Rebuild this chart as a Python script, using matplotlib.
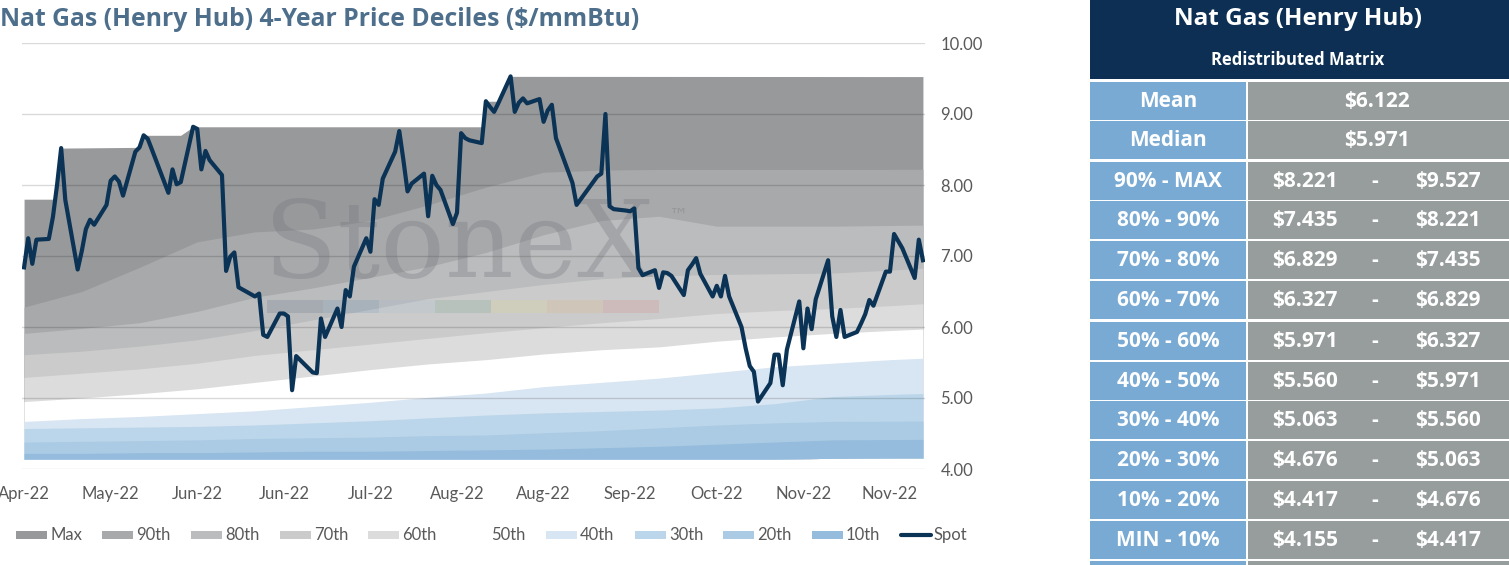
import numpy as np
import pandas as pd
import matplotlib
matplotlib.use('Agg')
import matplotlib.pyplot as plt
import matplotlib.dates as mdates
from matplotlib.patches import Rectangle
from matplotlib.lines import Line2D
from matplotlib.ticker import FormatStrFormatter

# ---------------- data ----------------
holidays = ['2022-05-30', '2022-06-20', '2022-07-04', '2022-09-05', '2022-11-24']
spot_dates = pd.bdate_range('2022-04-26', '2022-11-30', freq='C', holidays=holidays)
spot = [
    6.84, 7.25, 6.89, 7.23,
    7.24, 7.55, 8.00, 8.52, 7.79,
    6.81, 7.07, 7.38, 7.51, 7.44,
    7.72, 8.06, 8.12, 8.05, 7.85,
    8.47, 8.53, 8.70, 8.65, 8.50,
    7.89,
    8.22, 8.01, 8.04,
    8.82, 8.79, 8.22, 8.48, 8.35,
    8.14, 6.79, 6.99, 7.05, 6.56,
    6.43, 6.47, 5.89, 5.86,
    6.19, 6.19, 6.15, 5.11,
    5.59,
    5.36, 5.35, 6.12, 5.86,
    6.26, 6.00, 6.52, 6.43, 6.85,
    7.25, 7.06, 7.80, 7.72, 8.09,
    8.47, 8.76, 8.35, 7.91, 8.02,
    8.16, 7.56, 8.13, 8.00, 7.93,
    7.45, 7.61, 8.73, 8.66, 8.63,
    8.59, 9.18, 9.10, 9.03, 9.15,
    9.53, 9.03, 9.16, 9.22, 9.15,
    9.21, 8.89, 9.05,
    9.13, 8.66,
    8.03, 7.72, 7.80, 7.88,
    8.12, 8.16, 9.00, 7.70, 7.66,
    7.64, 7.63, 7.67, 6.83, 6.73,
    6.80, 6.55, 6.77, 6.76, 6.72,
    6.45, 6.80, 6.88, 6.97, 6.75,
    6.43, 6.58, 6.43, 6.72, 6.43,
    6.00, 5.70, 5.45, 5.37, 4.95,
    5.21, 5.61, 5.61, 5.18, 5.68,
    6.36,
    5.70, 6.26, 5.97, 6.39,
    6.94, 6.15, 5.86, 6.24, 5.86,
    5.93, 6.05, 6.18, 6.38, 6.30,
    6.78, 6.78, 7.31, 7.11,
    6.69, 7.23, 6.94,
]

band_dates = pd.to_datetime([
    '2022-04-26', '2022-05-10', '2022-05-24', '2022-06-07', '2022-06-21',
    '2022-07-05', '2022-07-19', '2022-08-02', '2022-08-16', '2022-08-30',
    '2022-09-13', '2022-09-27', '2022-10-11', '2022-10-25', '2022-11-08',
    '2022-11-22', '2022-11-30'])
p_min = [4.14, 4.14, 4.14, 4.14, 4.14, 4.14, 4.14, 4.14, 4.14, 4.14, 4.14, 4.14, 4.14, 4.14, 4.15, 4.155, 4.155]
p10 = [4.22, 4.22, 4.23, 4.23, 4.24, 4.25, 4.25, 4.26, 4.27, 4.28, 4.30, 4.32, 4.35, 4.38, 4.41, 4.415, 4.417]
p20 = [4.38, 4.39, 4.40, 4.41, 4.43, 4.44, 4.45, 4.47, 4.48, 4.51, 4.54, 4.58, 4.62, 4.65, 4.67, 4.675, 4.676]
p30 = [4.57, 4.58, 4.59, 4.60, 4.62, 4.65, 4.68, 4.72, 4.76, 4.79, 4.81, 4.83, 4.86, 4.92, 5.02, 5.05, 5.063]
p40 = [4.67, 4.71, 4.74, 4.78, 4.82, 4.88, 4.94, 5.01, 5.07, 5.16, 5.22, 5.28, 5.36, 5.44, 5.49, 5.54, 5.560]
p50 = [4.95, 5.00, 5.06, 5.13, 5.22, 5.31, 5.40, 5.48, 5.54, 5.62, 5.68, 5.72, 5.80, 5.86, 5.91, 5.95, 5.971]
p60 = [5.29, 5.35, 5.41, 5.49, 5.60, 5.68, 5.76, 5.84, 5.92, 5.99, 6.06, 6.12, 6.19, 6.23, 6.26, 6.30, 6.327]
p70 = [5.61, 5.66, 5.73, 5.82, 5.95, 6.10, 6.25, 6.40, 6.50, 6.60, 6.68, 6.72, 6.74, 6.75, 6.76, 6.80, 6.829]
p80 = [5.91, 5.98, 6.06, 6.22, 6.42, 6.55, 6.70, 6.85, 7.05, 7.30, 7.50, 7.56, 7.42, 7.42, 7.42, 7.43, 7.435]
p90 = [6.28, 6.50, 6.84, 7.20, 7.34, 7.38, 7.50, 7.72, 7.97, 8.18, 8.21, 8.22, 8.22, 8.22, 8.22, 8.22, 8.221]

max_dates = pd.to_datetime([
    '2022-04-26', '2022-05-03', '2022-05-04', '2022-05-05', '2022-05-24', '2022-05-25',
    '2022-06-03', '2022-06-06', '2022-08-15', '2022-08-16', '2022-08-19', '2022-08-22',
    '2022-11-30'])
max_vals = [7.80, 7.80, 8.00, 8.52, 8.53, 8.70, 8.70, 8.82, 8.82, 9.18, 9.18, 9.53, 9.527]

tick_dates = pd.to_datetime([
    '2022-04-26', '2022-05-17', '2022-06-07', '2022-06-28', '2022-07-19', '2022-08-09',
    '2022-08-30', '2022-09-20', '2022-10-11', '2022-11-01', '2022-11-22'])
tick_labels = ['Apr-22', 'May-22', 'Jun-22', 'Jun-22', 'Jul-22', 'Aug-22',
               'Aug-22', 'Sep-22', 'Oct-22', 'Nov-22', 'Nov-22']

legend_names = ['Max', '90th', '80th', '70th', '60th', '50th', '40th', '30th', '20th', '10th']

table_title = 'Nat Gas (Henry Hub)'
table_subtitle = 'Redistributed Matrix'
mean_val = 6.122
median_val = 5.971
range_labels = ['90% - MAX', '80% - 90%', '70% - 80%', '60% - 70%', '50% - 60%',
                '40% - 50%', '30% - 40%', '20% - 30%', '10% - 20%', 'MIN - 10%']
range_low = [8.221, 7.435, 6.829, 6.327, 5.971, 5.560, 5.063, 4.676, 4.417, 4.155]
range_high = [9.527, 8.221, 7.435, 6.829, 6.327, 5.971, 5.560, 5.063, 4.676, 4.417]

# ---------------- style ----------------
W, H = 1509, 565
FONT = ['Lato', 'DejaVu Sans']
WIDE = ['Open Sans', 'DejaVu Sans']
plt.rcParams['font.family'] = FONT
TXT = '#595959'
band_colors = ['#98999b', '#a8a9ab', '#bbbcbd', '#cbcbcb', '#dcdcdc', '#ffffff',
               '#d8e5f2', '#bbd6ea', '#abcbe4', '#95bcdd']
SPOT_C = '#0b3356'


def fx(x):
    return x / W


def fy(y):
    return 1 - y / H


fig = plt.figure(figsize=(W / 100, H / 100), dpi=100)
ax = fig.add_axes([fx(22), fy(469), (925 - 22) / W, (469 - 43) / H])

bx = mdates.date2num(band_dates)
mx = mdates.date2num(max_dates)
sx = mdates.date2num(spot_dates)

# stacked decile bands (layered from the top boundary down to the minimum)
ax.fill_between(mx, 4.16, max_vals, color=band_colors[0], lw=0, zorder=1)
tops = [p90, p80, p70, p60, p50, p40, p30, p20, p10]
for top, col in zip(tops, band_colors[1:]):
    ax.fill_between(bx, p_min, top, color=col, lw=0, zorder=1)

# gridlines
for v in range(4, 11):
    ax.axhline(v, color='black', alpha=0.15, lw=1.0, zorder=3)

# watermark
ax.text(fx(264), fy(277), 'StoneX', transform=fig.transFigure, family='DejaVu Serif',
        fontsize=77, color='#6d7378', alpha=0.30, ha='left', va='baseline', zorder=4)
ax.text(fx(668), fy(222), '™', transform=fig.transFigure, family='DejaVu Sans',
        fontsize=14, color='#6d7378', alpha=0.32, ha='left', va='baseline', zorder=4)
wm_cols = ['#1f3f6a', '#2f6fb0', '#8fb8dc', '#2e8b57', '#f1e05a', '#f0a040', '#d9534f']
for k, c in enumerate(wm_cols):
    ax.add_patch(Rectangle((fx(267 + 56 * k), fy(313)), 56 / W, 13 / H,
                           transform=fig.transFigure, color=c, alpha=0.13, lw=0, zorder=4))

# spot line
ax.plot(sx, spot, color=SPOT_C, lw=3.0, solid_joinstyle='round', zorder=5)

ax.set_xlim(mdates.date2num(pd.Timestamp('2022-04-26')) - 0.5,
            mdates.date2num(pd.Timestamp('2022-11-30')) + 0.5)
ax.set_ylim(4, 10)
ax.set_xticks(mdates.date2num(tick_dates))
ax.set_xticklabels(tick_labels)
ax.set_yticks(np.arange(4, 10.5, 1))
ax.yaxis.set_major_formatter(FormatStrFormatter('%.2f'))
ax.yaxis.tick_right()
ax.tick_params(axis='x', length=0, pad=12, labelsize=12, labelcolor=TXT)
ax.tick_params(axis='y', length=0, pad=11, labelsize=12, labelcolor=TXT)
for s in ax.spines.values():
    s.set_visible(False)
ax.set_facecolor('white')

# title
fig.text(fx(0), fy(19), 'Nat Gas (Henry Hub) 4-Year Price Deciles ($/mmBtu)',
         family=WIDE, fontsize=17.8, fontweight='bold', color='#4e6f8c', ha='left', va='center')

# legend
sw_x = [16, 102, 191, 280, 368, 457, 546, 635, 723, 812]
for name, col, x0 in zip(legend_names, band_colors, sw_x):
    fig.patches.append(Rectangle((fx(x0), fy(539)), 31 / W, 8.5 / H, transform=fig.transFigure,
                                 facecolor=col, edgecolor='none', figure=fig))
    fig.text(fx(x0 + 34), fy(535), name, fontsize=12, color=TXT, ha='left', va='center')
fig.lines.append(Line2D([fx(901), fx(931)], [fy(535), fy(535)], transform=fig.transFigure,
                        color=SPOT_C, lw=3.0, solid_capstyle='round', figure=fig))
fig.text(fx(934), fy(535), 'Spot', fontsize=12, color=TXT, ha='left', va='center')

# table
NAVY = '#0c2f53'
LBLUE = '#79aad4'
GREY = '#969d9c'
fig.patches.append(Rectangle((fx(1090), fy(79)), (1509 - 1090) / W, 79 / H,
                             transform=fig.transFigure, facecolor=NAVY, edgecolor='none', figure=fig))
fig.text(fx(1298), fy(19), table_title, family=WIDE, fontsize=17.5, fontweight='bold',
         color='white', ha='center', va='center')
fig.text(fx(1298), fy(60), table_subtitle, family=WIDE, fontsize=12, fontweight='bold',
         color='white', ha='center', va='center')

row_tops = [82, 121, 162, 201, 241, 281, 322, 362, 401, 441, 481, 521, 561]
row_h = 38
labels_all = ['Mean', 'Median'] + range_labels + ['']
TS = 15
for k, top in enumerate(row_tops):
    h = min(row_h, H - top)
    fig.patches.append(Rectangle((fx(1090), fy(top + h)), (1246 - 1090) / W, h / H,
                                 transform=fig.transFigure, facecolor=LBLUE, edgecolor='none', figure=fig))
    fig.patches.append(Rectangle((fx(1248), fy(top + h)), (1509 - 1248) / W, h / H,
                                 transform=fig.transFigure, facecolor=GREY, edgecolor='none', figure=fig))
    if k >= len(labels_all) - 1:
        continue
    yc = top + 19.5
    kw = dict(family=WIDE, fontsize=TS, fontweight='bold', color='white', ha='center', va='center')
    fig.text(fx(1168), fy(yc), labels_all[k], **kw)
    if k == 0:
        fig.text(fx(1377), fy(yc), f'${mean_val:.3f}', **kw)
    elif k == 1:
        fig.text(fx(1377), fy(yc), f'${median_val:.3f}', **kw)
    else:
        lo = range_low[k - 2]
        hi = range_high[k - 2]
        fig.text(fx(1305), fy(yc), f'${lo:.3f}', **kw)
        fig.text(fx(1375), fy(yc), '-', **kw)
        fig.text(fx(1448), fy(yc), f'${hi:.3f}', **kw)

fig.savefig('out.png', dpi=100, facecolor='white')
